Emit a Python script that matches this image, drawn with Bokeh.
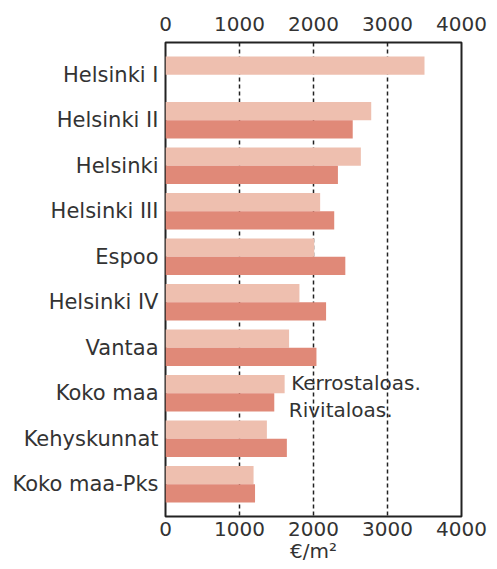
from bokeh.plotting import figure
from bokeh.models import Range1d, FixedTicker, LinearAxis, Label
from bokeh.embed import file_html
from bokeh.resources import INLINE

categories = ["Helsinki I", "Helsinki II", "Helsinki", "Helsinki III", "Espoo",
              "Helsinki IV", "Vantaa", "Koko maa", "Kehyskunnat", "Koko maa-Pks"]
kerrostalo = [3500, 2780, 2640, 2090, 2010, 1810, 1670, 1610, 1370, 1190]
rivitalo = [None, 2530, 2330, 2280, 2430, 2170, 2040, 1470, 1640, 1210]
x_ticks = [0, 1000, 2000, 3000, 4000]

FONT = "DejaVu Sans"
FS = "20px"
LIGHT = "#EEBFAF"
DARK = "#E08978"
TXT = "#333333"

idx = list(range(len(categories)))

p = figure(frame_width=296, frame_height=474, output_backend="svg", toolbar_location=None,
           x_range=Range1d(0, 4000), y_range=Range1d(len(categories) - 0.29, -0.71),
           x_axis_location=None, min_border_left=165, min_border_top=42,
           min_border_right=30, min_border_bottom=52)

ly = [i - 0.2 for i in idx]
dy = [i + 0.2 for i in idx if rivitalo[i] is not None]
dv = [rivitalo[i] for i in idx if rivitalo[i] is not None]
p.hbar(y=ly, right=kerrostalo, left=0, height=0.4, color=LIGHT, line_color=None)
p.hbar(y=dy, right=dv, left=0, height=0.4, color=DARK, line_color=None)

p.yaxis.ticker = FixedTicker(ticks=idx)
p.yaxis.major_label_overrides = {i: c for i, c in zip(idx, categories)}

bottom = LinearAxis(ticker=FixedTicker(ticks=x_ticks))
top = LinearAxis(ticker=FixedTicker(ticks=x_ticks))
p.add_layout(bottom, "below")
p.add_layout(top, "above")

for ax in [bottom, top]:
    ax.axis_line_color = None
    ax.major_tick_line_color = None
    ax.minor_tick_line_color = None
    ax.major_tick_out = 0
    ax.major_tick_in = 0
    ax.major_label_text_font = FONT
    ax.major_label_text_font_size = FS
    ax.major_label_text_color = TXT
bottom.major_label_standoff = 5
top.major_label_standoff = 12
bottom.axis_label = "€/m²"
bottom.axis_label_text_font = FONT
bottom.axis_label_text_font_size = FS
bottom.axis_label_text_font_style = "normal"
bottom.axis_label_text_color = TXT
bottom.axis_label_standoff = 0

p.yaxis.axis_line_color = None
p.yaxis.major_tick_line_color = None
p.yaxis.minor_tick_line_color = None
p.yaxis.major_tick_out = 0
p.yaxis.major_tick_in = 0
p.yaxis.major_label_text_font = FONT
p.yaxis.major_label_text_font_size = "21px"
p.yaxis.major_label_text_color = TXT
p.yaxis.major_label_standoff = 7

p.xgrid.ticker = FixedTicker(ticks=[1000, 2000, 3000])
p.xgrid.grid_line_color = "#222222"
p.xgrid.grid_line_dash = "4 3"
p.xgrid.grid_line_width = 1.5
p.ygrid.grid_line_color = None

p.outline_line_color = "#222222"
p.outline_line_width = 2
p.outline_line_alpha = 1

p.add_layout(Label(x=1698, y=6.78, text="Kerrostaloas.", text_font=FONT, text_font_size=FS,
                   text_color=TXT, text_baseline="middle"))
p.add_layout(Label(x=1666, y=7.37, text="Rivitaloas.", text_font=FONT, text_font_size=FS,
                   text_color=TXT, text_baseline="middle"))

open("out.html", "w").write(file_html(p, INLINE))
